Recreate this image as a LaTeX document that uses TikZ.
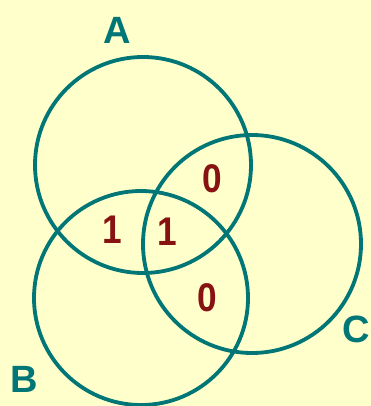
\documentclass[tikz,border=0pt]{standalone}
\usepackage{fontspec}
\setmainfont{Liberation Sans}
\definecolor{bgyel}{RGB}{255,255,204}
\definecolor{teal1}{RGB}{0,118,118}
\definecolor{dred}{RGB}{135,18,18}
\begin{document}
\begin{tikzpicture}[x=1pt,y=-1pt,
  setc/.style={circle,draw=teal1,line width=3.8pt,inner sep=0pt,minimum size=#1},
  setlabel/.style={text=teal1,font=\fontsize{38}{40}\selectfont\bfseries,inner sep=0pt},
  val/.style={text=dred,font=\fontsize{40}{42}\selectfont\bfseries,inner sep=0pt,xscale=0.88}]
\fill[bgyel] (0,0) rectangle (371,406);
\useasboundingbox (0,0) rectangle (371,406);
\node[setc=216pt] (cA) at (143,165) {};
\node[setc=214pt] (cB) at (141,298) {};
\node[setc=218pt] (cC) at (252,244) {};
\node[setlabel] (lA) at (117,30) {A};
\node[setlabel] (lB) at (24,379) {B};
\node[setlabel] (lC) at (356,329) {C};
\node[val] (v1) at (212,179) {0};
\node[val] (v2) at (112,230) {1};
\node[val] (v3) at (167,232) {1};
\node[val] (v4) at (207,298) {0};
\end{tikzpicture}
\end{document}
